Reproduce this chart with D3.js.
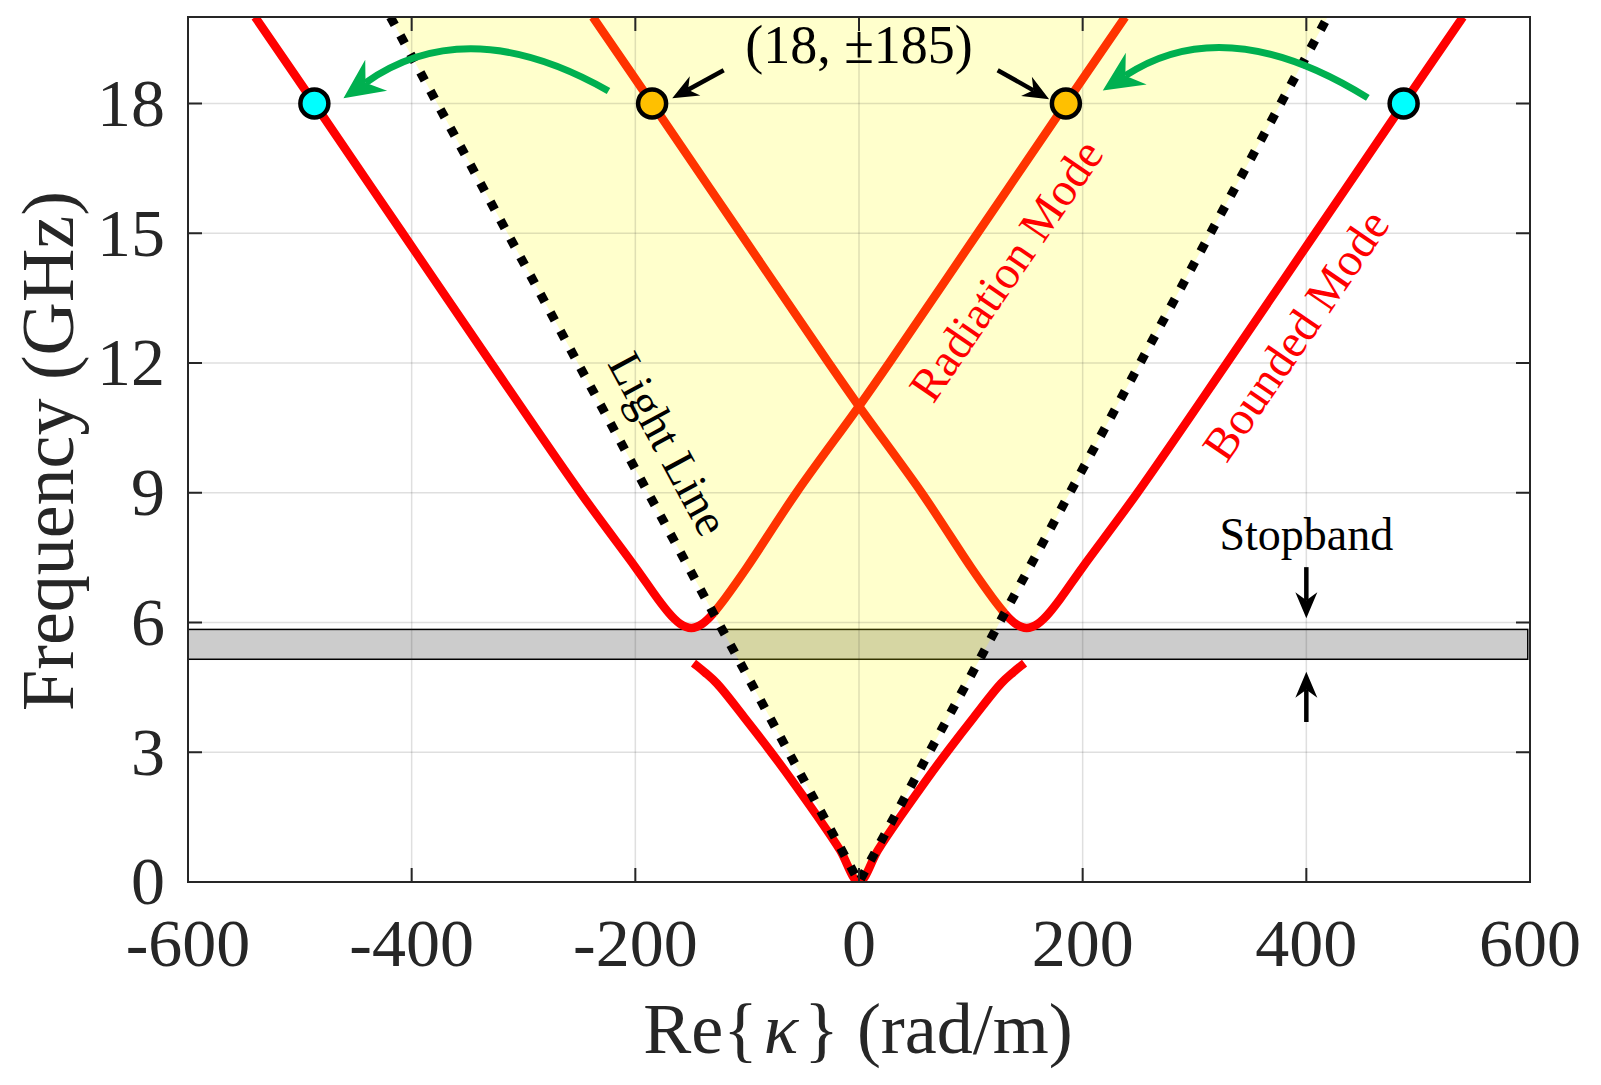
<!DOCTYPE html>
<html>
<head>
<meta charset="utf-8">
<script src="https://cdn.jsdelivr.net/npm/d3@7"></script>
<style>
    body { margin: 0; background: #fff; }
    svg { display: block; }
    text { font-family: "Liberation Serif", "Times New Roman", serif; }
</style>
</head>
<body>
<div id="chart"></div>
<script>
// ---- data (k in rad/m, f in GHz) ----
const xTicks = [-600, -400, -200, 0, 200, 400, 600];
const yTicks = [0, 3, 6, 9, 12, 15, 18];

// light line, k0 = 2*pi*f/c
const lightK = [-419, 0, 419];
const lightF = [20, 0, 20];

// lower branch (below the stopband)
const lowerK = [-148, -145, -138, -127, -103, -80, -58, -37, -17, 0, 17, 37, 58, 80, 103, 127, 138, 145, 148];
const lowerF = [5.06, 5.0, 4.85, 4.59, 3.82, 3.05, 2.28, 1.51, 0.74, 0, 0.74, 1.51, 2.28, 3.05, 3.82, 4.59, 4.85, 5.0, 5.06];

// upper branch outside the light cone (bounded mode)
const boundLeftK = [-540, -487, -408, -329, -249, -200, -180, -170, -165, -160, -155, -150, -145, -140, -135, -130];
const boundLeftF = [20, 18, 15, 12, 9, 7.28, 6.55, 6.22, 6.08, 5.97, 5.90, 5.87, 5.90, 5.97, 6.08, 6.22];
const boundRightK = [540, 487, 408, 329, 249, 200, 180, 170, 165, 160, 155, 150, 145, 140, 135, 130];
const boundRightF = [20, 18, 15, 12, 9, 7.28, 6.55, 6.22, 6.08, 5.97, 5.90, 5.87, 5.90, 5.97, 6.08, 6.22];

// upper branch inside the light cone (radiation mode)
const radLeftK = [-130, -120, -100, -56, 0, 27, 106, 185, 238];
const radLeftF = [6.22, 6.55, 7.28, 9, 11.0, 12, 15, 18, 20];
const radRightK = [130, 120, 100, 56, 0, -27, -106, -185, -238];
const radRightF = [6.22, 6.55, 7.28, 9, 11.0, 12, 15, 18, 20];

// stopband limits (GHz)
const stopband = [5.15, 5.84];

// points at 18 GHz
const cyanK = [-487, 487];
const cyanF = [18, 18];
const orangeK = [-185, 185];
const orangeF = [18, 18];

// ---- layout ----
const W = 1601, H = 1085;
const x = d3.scaleLinear().domain([-600, 600]).range([188, 1530]);
const y = d3.scaleLinear().domain([0, 20]).range([882, 17]);
const axisCol = "#262626";

const svg = d3.select("#chart").append("svg").attr("width", W).attr("height", H);

svg.append("defs").append("clipPath").attr("id", "plotclip")
    .append("rect")
    .attr("x", x(-600)).attr("y", y(20))
    .attr("width", x(600) - x(-600)).attr("height", y(0) - y(20));

const plot = svg.append("g").attr("clip-path", "url(#plotclip)");

const line = d3.line()
    .x(d => x(d[0]))
    .y(d => y(d[1]))
    .curve(d3.curveCatmullRom.alpha(0.5));

// stopband box
plot.append("rect")
    .attr("x", x(-600)).attr("y", y(stopband[1]))
    .attr("width", x(598) - x(-600))
    .attr("height", y(stopband[0]) - y(stopband[1]))
    .attr("fill", "#cccccc")
    .attr("stroke", "#000").attr("stroke-width", 1.5);

// light cone
plot.append("path")
    .attr("d", d3.line().x(d => x(d[0])).y(d => y(d[1]))(d3.zip(lightK, lightF)) + "Z")
    .attr("fill", "rgba(255,255,0,0.2)");

// grid
plot.append("g").selectAll("line").data(xTicks.slice(1, -1)).join("line")
    .attr("x1", d => x(d)).attr("x2", d => x(d))
    .attr("y1", y(0)).attr("y2", y(20))
    .attr("stroke", axisCol).attr("stroke-opacity", 0.15).attr("stroke-width", 1.5);
plot.append("g").selectAll("line").data(yTicks.slice(1)).join("line")
    .attr("x1", x(-600)).attr("x2", x(600))
    .attr("y1", d => y(d)).attr("y2", d => y(d))
    .attr("stroke", axisCol).attr("stroke-opacity", 0.15).attr("stroke-width", 1.5);

// dispersion curves
const curves = [
    { k: lowerK, f: lowerF, c: "#ff0000" },
    { k: boundLeftK, f: boundLeftF, c: "#ff0000" },
    { k: boundRightK, f: boundRightF, c: "#ff0000" },
    { k: radLeftK, f: radLeftF, c: "#ff3300" },
    { k: radRightK, f: radRightF, c: "#ff3300" },
];
plot.append("g").selectAll("path").data(curves).join("path")
    .attr("d", d => line(d3.zip(d.k, d.f)))
    .attr("fill", "none")
    .attr("stroke", d => d.c)
    .attr("stroke-width", 8.5)
    .attr("stroke-linejoin", "round");

// light line (dotted)
plot.append("path")
    .attr("d", d3.line().x(d => x(d[0])).y(d => y(d[1]))(d3.zip(lightK, lightF)))
    .attr("fill", "none")
    .attr("stroke", "#000")
    .attr("stroke-width", 9)
    .attr("stroke-dasharray", "9,12");

// axes box + ticks
const ax = svg.append("g");
ax.append("rect")
    .attr("x", x(-600)).attr("y", y(20))
    .attr("width", x(600) - x(-600)).attr("height", y(0) - y(20))
    .attr("fill", "none").attr("stroke", axisCol).attr("stroke-width", 2);
const tl = 14;
ax.selectAll(".xt").data(xTicks).join("path")
    .attr("class", "xt")
    .attr("d", d => `M${x(d)},${y(0)}v${-tl}M${x(d)},${y(20)}v${tl}`)
    .attr("stroke", axisCol).attr("stroke-width", 2);
ax.selectAll(".yt").data(yTicks).join("path")
    .attr("class", "yt")
    .attr("d", d => `M${x(-600)},${y(d)}h${tl}M${x(600)},${y(d)}h${-tl}`)
    .attr("stroke", axisCol).attr("stroke-width", 2);

ax.selectAll(".xl").data(xTicks).join("text")
    .attr("class", "xl")
    .attr("x", d => x(d)).attr("y", 966)
    .attr("text-anchor", "middle")
    .attr("font-size", 68).attr("fill", axisCol)
    .text(d => d);
ax.selectAll(".yl").data(yTicks).join("text")
    .attr("class", "yl")
    .attr("x", 165).attr("y", d => y(d))
    .attr("dy", "0.33em")
    .attr("text-anchor", "end")
    .attr("font-size", 68).attr("fill", axisCol)
    .text(d => d);

// axis labels
svg.append("text")
    .attr("transform", "translate(73,451) rotate(-90)")
    .attr("text-anchor", "middle")
    .attr("font-size", 74).attr("fill", axisCol)
    .text("Frequency (GHz)");
const xl = svg.append("text")
    .attr("x", 858).attr("y", 1053)
    .attr("text-anchor", "middle")
    .attr("font-size", 72).attr("fill", axisCol);
xl.append("tspan").text("Re{");
xl.append("tspan").attr("font-style", "italic").attr("dx", 6).text("κ");
xl.append("tspan").attr("dx", 6).text("} (rad/m)");

// markers
const mk = svg.append("g");
mk.selectAll(".cy").data(d3.zip(cyanK, cyanF)).join("circle")
    .attr("class", "cy")
    .attr("cx", d => x(d[0])).attr("cy", d => y(d[1])).attr("r", 14)
    .attr("fill", "#00ffff").attr("stroke", "#000").attr("stroke-width", 4.5);
mk.selectAll(".or").data(d3.zip(orangeK, orangeF)).join("circle")
    .attr("class", "or")
    .attr("cx", d => x(d[0])).attr("cy", d => y(d[1])).attr("r", 14)
    .attr("fill", "#ffc000").attr("stroke", "#000").attr("stroke-width", 4.5);

// ---- annotations ----
function head(tip, from, len, half, notch) {
    const dx = tip[0] - from[0], dy = tip[1] - from[1], L = Math.hypot(dx, dy);
    const ux = dx / L, uy = dy / L, px = -uy, py = ux;
    const bx = tip[0] - ux * len, by = tip[1] - uy * len;
    return `M${tip[0]},${tip[1]}L${bx + px * half},${by + py * half}` +
        `L${tip[0] - ux * notch},${tip[1] - uy * notch}L${bx - px * half},${by - py * half}Z`;
}
const P = d => [x(d[0]), y(d[1])];

function arrow(g, from, tip, col, w, len, half, notch) {
    const a = P(from), b = P(tip);
    const L = Math.hypot(b[0] - a[0], b[1] - a[1]);
    const e = [b[0] - (b[0] - a[0]) / L * notch, b[1] - (b[1] - a[1]) / L * notch];
    g.append("path").attr("d", `M${a[0]},${a[1]}L${e[0]},${e[1]}`)
        .attr("stroke", col).attr("stroke-width", w).attr("fill", "none");
    g.append("path").attr("d", head(b, a, len, half, notch)).attr("fill", col);
}

function curvedArrow(g, from, ctrl, tip, col, w, len, half, notch) {
    const a = P(from), c = P(ctrl), b = P(tip);
    const L = Math.hypot(b[0] - c[0], b[1] - c[1]);
    const e = [b[0] - (b[0] - c[0]) / L * notch, b[1] - (b[1] - c[1]) / L * notch];
    const p = d3.path();
    p.moveTo(a[0], a[1]);
    p.quadraticCurveTo(c[0], c[1], e[0], e[1]);
    g.append("path").attr("d", p.toString())
        .attr("stroke", col).attr("stroke-width", w).attr("fill", "none");
    g.append("path").attr("d", head(b, c, len, half, notch)).attr("fill", col);
}

const an = svg.append("g");
const green = "#00b050";
curvedArrow(an, [-224, 18.29], [-350, 20.14], [-461, 18.12], green, 7, 40, 19, 27);
curvedArrow(an, [455, 18.13], [328, 20.17], [218, 18.30], green, 7, 40, 19, 27);

arrow(an, [-121, 18.77], [-167, 18.12], "#000", 4.5, 26, 11, 18);
arrow(an, [124, 18.77], [170, 18.1], "#000", 4.5, 26, 11, 18);

an.append("text")
    .attr("x", x(0)).attr("y", y(18.94))
    .attr("text-anchor", "middle")
    .attr("font-size", 54).attr("fill", "#000")
    .text("(18, ±185)");

// stopband label and arrows
an.append("text")
    .attr("x", x(400)).attr("y", y(7.68))
    .attr("text-anchor", "middle")
    .attr("font-size", 46).attr("fill", "#000")
    .text("Stopband");
arrow(an, [400, 7.28], [400, 6.10], "#000", 4.5, 26, 11, 18);
arrow(an, [400, 3.70], [400, 4.86], "#000", 4.5, 26, 11, 18);

// rotated labels
function rotLabel(k, f, ang, txt, col, size) {
    an.append("text")
        .attr("transform", `translate(${x(k)},${y(f)}) rotate(${ang})`)
        .attr("text-anchor", "middle")
        .attr("dy", "0.35em")
        .attr("font-size", size).attr("fill", col)
        .text(txt);
}
rotLabel(-170, 10.14, 61.6, "Light Line", "#000", 47);
rotLabel(131, 14.15, -55.6, "Radiation Mode", "#ff0000", 47);
rotLabel(390, 12.65, -55.6, "Bounded Mode", "#ff0000", 47);
</script>
</body>
</html>
